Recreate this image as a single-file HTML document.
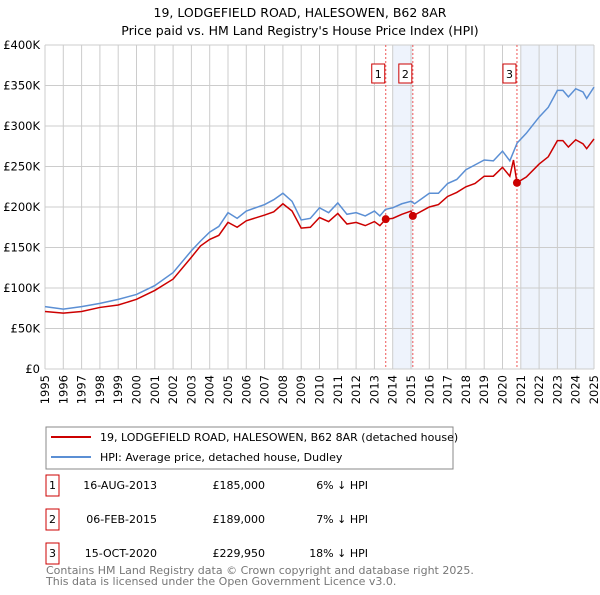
<!DOCTYPE html>
<html><head><meta charset="utf-8"><style>
body{margin:0;background:#fff;font-family:"Liberation Sans","DejaVu Sans",sans-serif}
svg text{font-family:"DejaVu Sans","Liberation Sans",sans-serif}
</style></head><body>
<svg id="c" width="600" height="590" xmlns="http://www.w3.org/2000/svg"></svg>
<script>
const years=[1995,1996,1997,1998,1999,2000,2001,2002,2003,2003.5,2004,2004.5,2005,2005.5,2006,2007,2007.5,2008,2008.5,2009,2009.5,2010,2010.5,2011,2011.5,2012,2012.5,2013,2013.3,2013.6,2014,2014.5,2015,2015.2,2016,2016.5,2017,2017.5,2018,2018.5,2019,2019.5,2020,2020.4,2020.8,2021.3,2022,2022.5,2023,2023.3,2023.6,2024,2024.4,2024.6,2025];
const hpiValues=[77,74,77,81,86,92,103,119,146,158,169,176,193,186,195,203,209,217,207,184,186,199,193,205,191,193,189,195,189,197,199,204,207,204,217,217,229,234,246,252,258,257,269,257,279,291,311,323,344,344,336,346,342,334,348];
const redYears=[1995,1996,1997,1998,1999,2000,2001,2002,2003,2003.5,2004,2004.5,2005,2005.5,2006,2007,2007.5,2008,2008.5,2009,2009.5,2010,2010.5,2011,2011.5,2012,2012.5,2013,2013.3,2013.62,2014,2014.5,2015,2015.1,2016,2016.5,2017,2017.5,2018,2018.5,2019,2019.5,2020,2020.4,2020.6,2020.79,2021.3,2022,2022.5,2023,2023.3,2023.6,2024,2024.4,2024.6,2025];
const redValues=[71,69,71,76,79,86,97,111,138,152,160,165,181,175,183,190,194,204,195,174,175,187,182,192,179,181,177,182,177,185,186,191,195,189,200,203,213,218,225,229,238,238,249,238,258,230,237,253,262,282,282,274,283,278,272,284];
const saleYears=[2013.62,2015.1,2020.79];
const saleValues=[185,189,229.95];
const saleLabels=["1","2","3"];
const yTicks=[0,50,100,150,200,250,300,350,400];
const yTickLabels=["£0","£50K","£100K","£150K","£200K","£250K","£300K","£350K","£400K"];
const NS="http://www.w3.org/2000/svg",svg=document.getElementById('c');
const X0=45,X1=594,Y0=369,Y1=45;
const x=v=>X0+(v-1995)/30*(X1-X0), y=v=>Y0-v/400*(Y0-Y1);
function el(t,a,p){const e=document.createElementNS(NS,t);for(const k in a)e.setAttribute(k,a[k]);(p||svg).appendChild(e);return e;}
function tx(s,a){const e=el('text',a);e.textContent=s;return e;}
let t=tx("19, LODGEFIELD ROAD, HALESOWEN, B62 8AR",{x:300,y:17,'text-anchor':'middle','font-size':12.5});


t=tx("Price paid vs. HM Land Registry's House Price Index (HPI)",{x:300,y:35,'text-anchor':'middle','font-size':12.5});


let s=el('rect',{x:x(2014),y:Y1,width:x(2015.1)-x(2014),height:Y0-Y1,fill:'#eef3fc'});


s=el('rect',{x:x(2021),y:Y1,width:X1-x(2021),height:Y0-Y1,fill:'#eef3fc'});


for(let yr=1995;yr<=2025;yr++){
 const g=el('line',{x1:x(yr),x2:x(yr),y1:Y1,y2:Y0,stroke:'#ccc','stroke-width':1});
 
 
 const l=tx(String(yr),{transform:`translate(${x(yr)+4},${Y0+6}) rotate(-90)`,'text-anchor':'end','font-size':11.5});
 
 
}
yTicks.forEach((v,i)=>{
 const g=el('line',{x1:X0,x2:X1,y1:y(v),y2:y(v),stroke:'#ccc','stroke-width':1});
 
 
 const l=tx(yTickLabels[i],{x:X0-5,y:y(v)+4,'text-anchor':'end','font-size':11.5});
 
 
});
saleYears.forEach((yr,i)=>{
 const v=el('line',{x1:x(yr),x2:x(yr),y1:Y1,y2:Y0,stroke:'#e55','stroke-width':1,'stroke-dasharray':'2,2'});
 
 
 const r=el('rect',{x:x(yr)-14,y:64,width:13,height:19,fill:'#fff',stroke:'#c00'});
 
 
 const l=tx(saleLabels[i],{x:x(yr)-7.5,y:78,'text-anchor':'middle','font-size':11});
 
 
});
let p=el('polyline',{points:years.map((v,i)=>x(v)+','+y(hpiValues[i])).join(' '),fill:'none',stroke:'#5b8fd4','stroke-width':1.5});


p=el('polyline',{points:redYears.map((v,i)=>x(v)+','+y(redValues[i])).join(' '),fill:'none',stroke:'#cc0000','stroke-width':1.5});


saleYears.forEach((yr,i)=>{
 const c=el('circle',{cx:x(yr),cy:y(saleValues[i]),r:4,fill:'#cc0000'});
 
 
});
const lg=el('rect',{x:46,y:427,width:407,height:42,fill:'#fff',stroke:'#888'});


let ll=el('line',{x1:51,x2:91,y1:437,y2:437,stroke:'#cc0000','stroke-width':2});


ll=el('line',{x1:51,x2:91,y1:457,y2:457,stroke:'#5b8fd4','stroke-width':2});


t=tx("19, LODGEFIELD ROAD, HALESOWEN, B62 8AR (detached house)",{x:100,y:441,'font-size':11});


t=tx("HPI: Average price, detached house, Dudley",{x:100,y:461,'font-size':11});


const rows=[["16-AUG-2013","£185,000","6% ↓ HPI"],["06-FEB-2015","£189,000","7% ↓ HPI"],["15-OCT-2020","£229,950","18% ↓ HPI"]];
rows.forEach((r,i)=>{
 const yy=485+i*34;
 const b=el('rect',{x:46,y:yy-10,width:13,height:21,fill:'#fff',stroke:'#c00'});
 
 
 let q=tx(String(i+1),{x:52.5,y:yy+4,'text-anchor':'middle','font-size':11});
 
 
 q=tx(r[0],{x:157,y:yy+4,'text-anchor':'end','font-size':11});
 
 
 q=tx(r[1],{x:265,y:yy+4,'text-anchor':'end','font-size':11});
 
 
 q=tx(r[2],{x:368,y:yy+4,'text-anchor':'end','font-size':11});
 
 
});
t=tx("Contains HM Land Registry data © Crown copyright and database right 2025.",{x:46,y:574,'font-size':11,fill:'#777'});


t=tx("This data is licensed under the Open Government Licence v3.0.",{x:46,y:585,'font-size':11,fill:'#777'});


</script>
</body></html>
